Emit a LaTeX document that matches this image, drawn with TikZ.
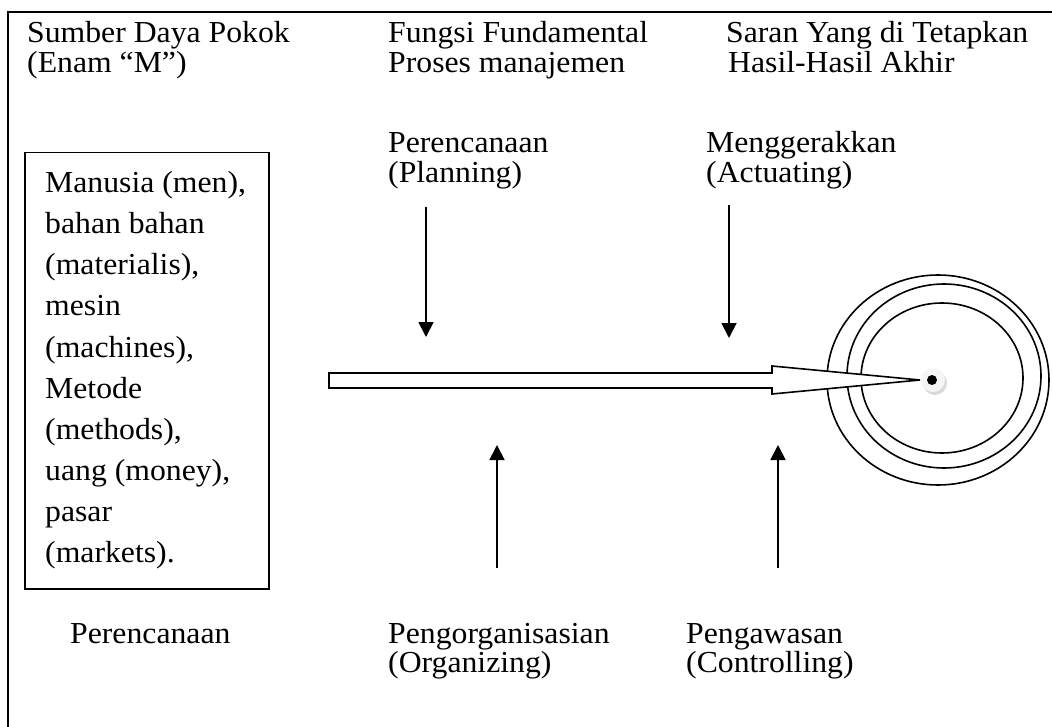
\documentclass[tikz,border=0pt]{standalone}
\usepackage{fontspec}
\setmainfont{Liberation Serif}[FakeStretch=1.04]
\usetikzlibrary{arrows.meta}
\tikzset{
  lbl/.style={anchor=base west, inner sep=0pt, font=\fontsize{30.5}{29}\selectfont},
  pen/.style={line width=1.8pt, -{Triangle[length=15pt,width=15pt]}},
  ring/.style={line width=1.6pt},
}
\begin{document}
\begin{tikzpicture}[x=1pt, y=-1pt]
    \useasboundingbox (0,0) rectangle (1052,727);
    \draw[line width=2pt] (8,740) -- (8,12) -- (1060,12);
    % judul kolom
    \node[lbl] (sumber) at (27,43) {Sumber Daya Pokok};
    \node[lbl] (enam) at (27,72.5) {(Enam “M”)};
    \node[lbl] (fungsi) at (388,43) {Fungsi Fundamental};
    \node[lbl] (proses) at (388,72.5) {Proses manajemen};
    \node[lbl] (saran) at (726,43) {Saran Yang di Tetapkan};
    \node[lbl] (hasil) at (728,72.5) {Hasil-Hasil Akhir};
    % fungsi atas
    \node[lbl] (plan) at (388,153) {Perencanaan};
    \node[lbl] (plan2) at (388,182.5) {(Planning)};
    \node[lbl] (act) at (706,153) {Menggerakkan};
    \node[lbl] (act2) at (706,182.5) {(Actuating)};
    % fungsi bawah
    \node[lbl] (rencana) at (70,643) {Perencanaan};
    \node[lbl] (org) at (388,643) {Pengorganisasian};
    \node[lbl] (org2) at (388,672.5) {(Organizing)};
    \node[lbl] (ctrl) at (686,643) {Pengawasan};
    \node[lbl] (ctrl2) at (686,672.5) {(Controlling)};
    % kotak enam M
    \node[draw, line width=1.5pt, minimum width=244pt, minimum height=436pt,
          anchor=north west, inner sep=0pt] (sumberbox) at (24,152) {};
    \foreach \t [count=\i from 0] in {{Manusia (men),}, {bahan bahan},
        {(materialis),}, {mesin}, {(machines),}, {Metode}, {(methods),},
        {uang (money),}, {pasar}, {(markets).}}
        \node[lbl] (m\i) at (45,{193+41*\i}) {\t};
    % sasaran
    \draw[ring] (938,380) ellipse (111pt and 105pt);
    \draw[ring] (944,376) ellipse (97pt and 92pt);
    \draw[ring] (942,378) ellipse (81pt and 75pt);
    % panah besar
    \draw[line width=1.6pt, fill=white] (329,373) -- (772,373) -- (772,366)
        -- (920,380) -- (772,394) -- (772,388) -- (329,388) -- cycle;
    \fill[gray!30] (935,383) circle (12pt);
    \fill[gray!8] (933,380) circle (12pt);
    \fill[black] (932,380) circle (5pt);
    % panah kecil
    \coordinate (a1) at (426,207);
    \coordinate (a1e) at (426,337);
    \coordinate (a2) at (729,205);
    \coordinate (a2e) at (729,338);
    \coordinate (b1) at (497,568);
    \coordinate (b1e) at (497,445);
    \coordinate (b2) at (778,568);
    \coordinate (b2e) at (778,445);
    \draw[pen] (a1) -- (a1e);
    \draw[pen] (a2) -- (a2e);
    \draw[pen] (b1) -- (b1e);
    \draw[pen] (b2) -- (b2e);
\end{tikzpicture}
\end{document}
